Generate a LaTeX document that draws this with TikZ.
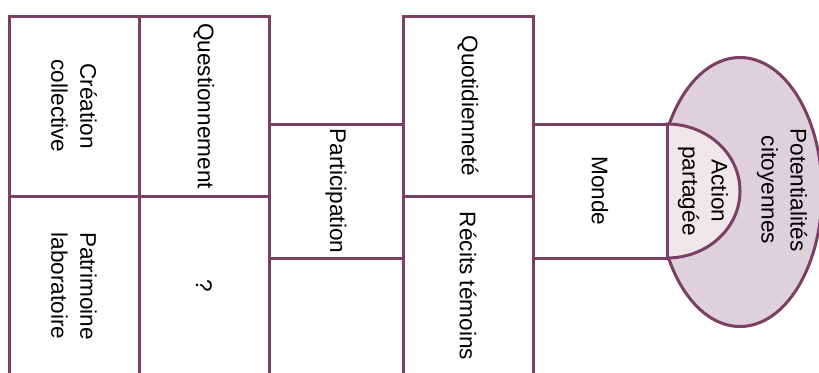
\documentclass[tikz,border=0pt]{standalone}
\usepackage{fontspec}
\setmainfont{Liberation Sans}
\usetikzlibrary{positioning}
\usetikzlibrary{shapes.geometric}
\definecolor{plum}{HTML}{7B3F63}
\definecolor{mauve}{HTML}{DED1D9}
\definecolor{pale}{HTML}{EFE7EA}

\begin{document}
\begin{tikzpicture}[x=0.5pt, y=-0.5pt,
		b/.style = {rectangle, draw=plum, fill=white, line width=1.5pt, rotate=-90, align=center, inner sep=0, outer sep=0, minimum width=90pt, minimum height=65pt, font=\fontsize{11.3}{14.5}\selectfont},
		sq/.style = {b, minimum width=67pt, minimum height=67pt},
		txt/.style = {rotate=-90, align=center, inner sep=0, font=\fontsize{11.3}{14.5}\selectfont},
		pot/.style = {ellipse, draw=plum, fill=mauve, line width=1.5pt, minimum width=82pt, minimum height=134.5pt, inner sep=0},
		act/.style = {draw=plum, fill=pale, line width=1.5pt}
		]
		\useasboundingbox (0,0) rectangle (819,372);
		
		%Background shapes
		\node[pot]	(pot)	at	(740, 192)	{};
		\draw[act]	(667, 124)	arc[start angle=-90, end angle=90, x radius=73, y radius=67] -- cycle;
		
		%Nodes
		\node[b]	(crea)	at	(74, 106)	{Création\\collective};
		\node[b]	(patr)	at	(74, 286)	{Patrimoine\\laboratoire};
		\node[b]	(quest)	at	(204, 106)	{Questionnement};
		\node[b]	(qmark)	at	(204, 286)	{?};
		\node[sq]	(part)	at	(336, 191)	{Participation};
		\node[b]	(quot)	at	(468, 106)	{Quotidienneté};
		\node[b]	(reci)	at	(468, 286)	{Récits témoins};
		\node[sq]	(monde)	at	(600, 191)	{Monde};
		\node[txt]	(actlbl)	at	(703, 191)	{Action\\partagée};
		\node[txt]	(potlbl)	at	(782, 190)	{Potentialités\\citoyennes};
	\end{tikzpicture}
\end{document}
